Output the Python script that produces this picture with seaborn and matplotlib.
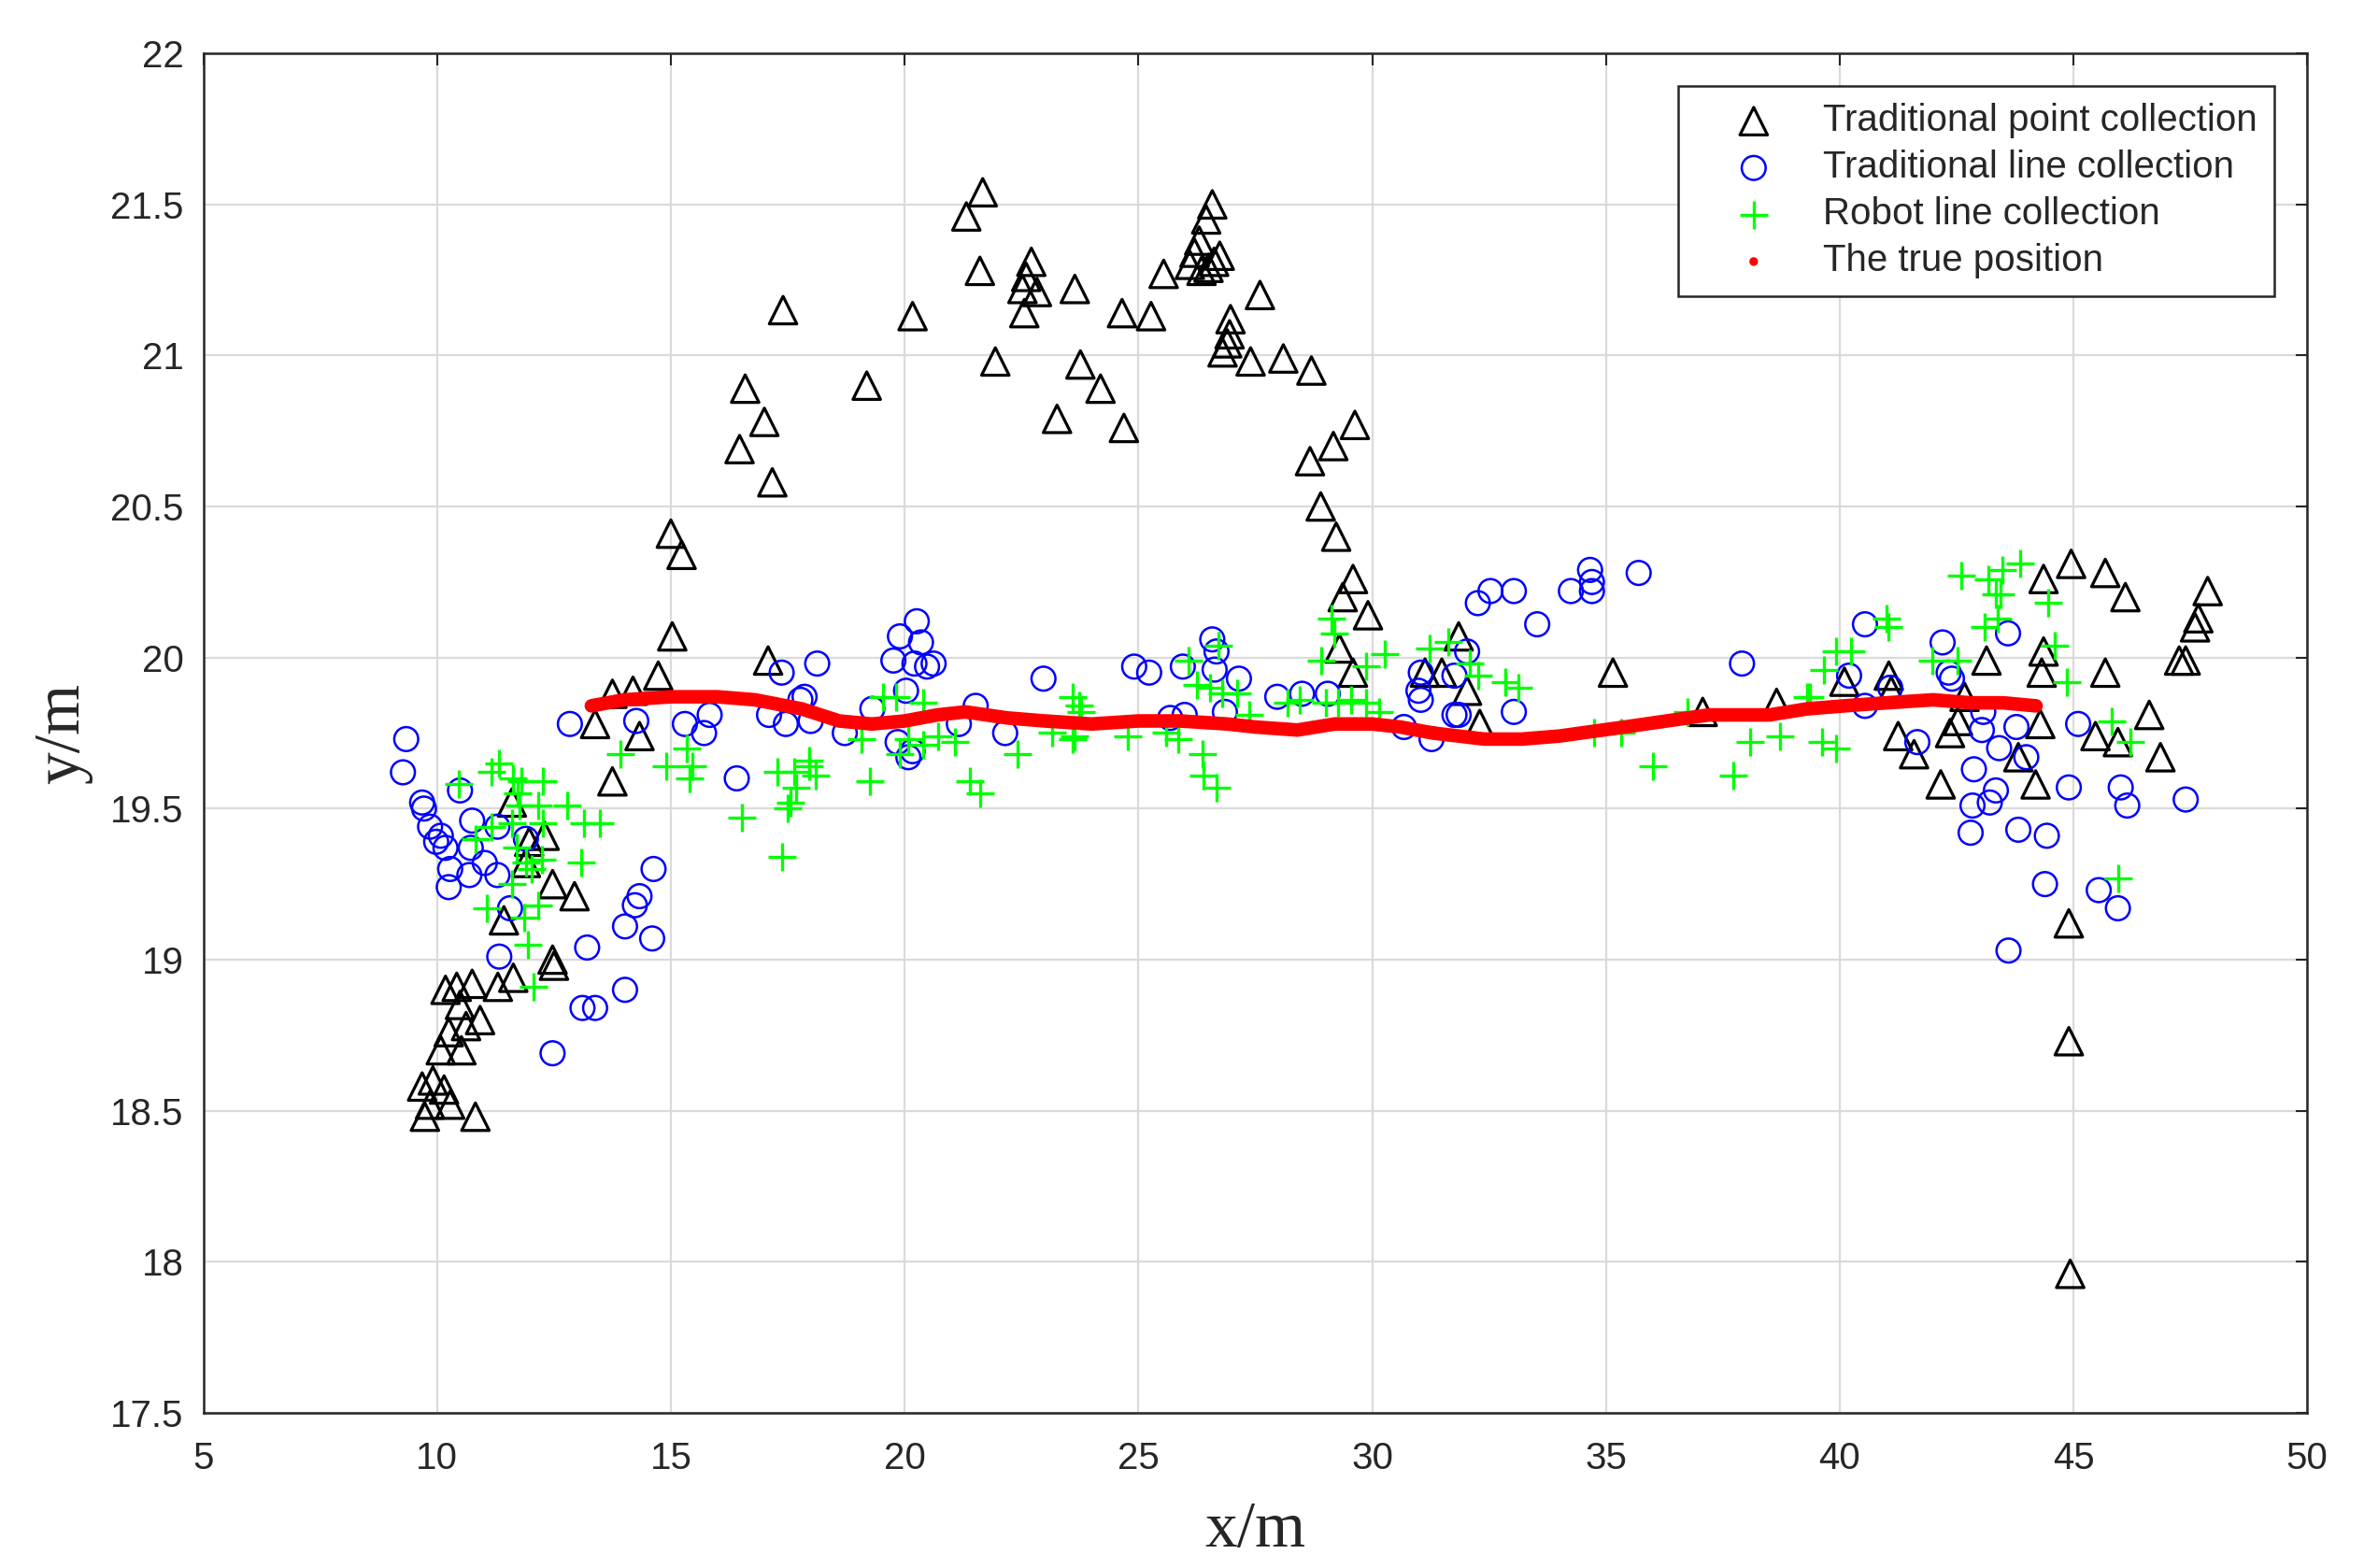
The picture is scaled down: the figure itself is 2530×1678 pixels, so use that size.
import matplotlib
matplotlib.use("Agg")
import matplotlib.pyplot as plt
import seaborn as sns

# Traditional point collection (black triangles)
point_x = [9.68, 9.74, 9.85, 9.91, 10.08, 10.15, 10.28, 10.25, 10.52, 10.62, 10.92, 10.49, 10.18, 10.42,
           10.75, 10.82, 11.3, 11.63, 12.47, 12.5, 11.43, 12.47, 12.94, 11.9, 11.97, 12.3, 11.6,
           13.38, 13.75, 13.75, 14.19, 14.33, 14.73, 15.03, 15.0, 15.23, 17.08,
           16.47, 16.59, 17.0, 17.17, 17.4, 19.19, 20.17, 21.32, 21.67, 21.61, 21.94, 22.52, 22.56, 22.6,
           22.71, 22.83, 23.26, 23.64, 23.76, 24.19, 24.65, 24.69, 25.27, 25.54,
           26.58, 26.45, 26.3, 26.2, 26.1, 26.35, 26.5, 26.62, 26.74, 27.6, 26.97, 26.95, 26.9, 26.8,
           27.4, 28.1, 28.7, 29.63, 29.17, 28.67, 28.9, 29.23, 29.59, 29.37, 29.91, 29.3, 29.59,
           31.13, 31.49, 31.85, 32.03, 32.3, 35.15, 37.07, 38.65,
           40.1, 41.05, 41.1, 41.25, 41.59, 42.16, 42.36, 42.53, 42.67, 43.14, 43.82, 44.19, 44.29, 44.32,
           44.36, 44.36, 44.95, 45.68, 46.11, 45.68, 45.47, 45.95, 46.62, 46.86, 47.26, 47.4, 47.6, 47.67,
           47.87, 44.9, 44.9, 44.93]
point_y = [18.58, 18.48, 18.52, 18.6, 18.7, 18.57, 18.52, 18.76, 18.7, 18.78, 18.8, 18.85, 18.9, 18.91,
           18.92, 18.48, 18.91, 18.94, 19.0, 18.98, 19.13, 19.25, 19.21, 19.32, 19.39, 19.41, 19.52,
           19.78, 19.59, 19.88, 19.89, 19.74, 19.94, 20.07, 20.41, 20.34, 19.99,
           20.69, 20.89, 20.78, 20.58, 21.15, 20.9, 21.13, 21.46, 21.54, 21.28, 20.98, 21.22, 21.14, 21.26,
           21.31, 21.21, 20.79, 21.22, 20.97, 20.89, 21.14, 20.76, 21.13, 21.27,
           21.5, 21.45, 21.38, 21.34, 21.3, 21.28, 21.29, 21.31, 21.33, 21.2, 21.12, 21.07, 21.04, 21.01,
           20.98, 20.99, 20.95, 20.77, 20.7, 20.65, 20.5, 20.4, 20.26, 20.2, 20.14, 20.03, 19.95,
           19.95, 19.95, 20.07, 19.89, 19.78, 19.95, 19.82, 19.85,
           19.92, 19.94, 19.89, 19.74, 19.68, 19.58, 19.75, 19.79, 19.87, 19.99, 19.67, 19.58, 19.78, 19.95,
           20.02, 20.26, 20.31, 20.28, 20.2, 19.95, 19.74, 19.72, 19.81, 19.67, 19.99, 19.99, 20.1, 20.13,
           20.22, 19.12, 18.73, 17.96]

# Traditional line collection (blue circles)
line_x = [9.34, 9.27, 9.68, 9.72, 10.49, 10.75, 9.85, 10.08, 9.98, 10.18, 11.29, 11.9, 10.72, 11.02,
          10.28, 10.69, 11.29, 10.25, 11.56, 11.33, 12.84, 14.26, 15.3, 15.83, 15.71, 16.41, 14.63, 14.33,
          14.23, 14.02, 14.6, 13.21, 13.11, 13.38, 14.02, 12.47,
          17.37, 18.13, 17.1, 17.46, 17.77, 17.86, 17.99, 18.72, 20.26, 19.9, 20.35, 19.76, 20.21, 20.62,
          20.48, 20.03, 19.31, 19.85, 20.17, 20.08, 21.52, 21.16, 22.15, 22.97, 24.91, 25.23, 25.95, 26.58,
          26.67, 26.63, 25.68, 25.99, 26.85, 27.15, 27.97, 28.5, 29.05, 31.04, 30.99, 31.04, 32.03, 31.76,
          31.76, 31.85, 33.03, 30.68, 31.27, 32.26, 32.53, 33.03, 33.53, 34.25, 34.66, 34.7, 34.7, 35.7,
          37.91,
          40.54, 42.2, 43.6, 40.2, 41.08, 40.54, 42.33, 42.4, 45.1, 41.66, 43.07, 43.04, 43.78, 43.41,
          43.99, 42.87, 43.34, 43.21, 42.84, 44.9, 46.01, 46.15, 47.4, 42.8, 43.82, 44.43, 44.39, 45.54,
          45.95, 43.61]
line_y = [19.73, 19.62, 19.52, 19.5, 19.56, 19.46, 19.44, 19.41, 19.39, 19.37, 19.44, 19.4, 19.37, 19.32,
          19.3, 19.28, 19.28, 19.24, 19.17, 19.01, 19.78, 19.79, 19.78, 19.81, 19.75, 19.6, 19.3, 19.21,
          19.18, 19.11, 19.07, 19.04, 18.84, 18.84, 18.9, 18.69,
          19.95, 19.98, 19.81, 19.78, 19.86, 19.87, 19.79, 19.75, 20.12, 20.07, 20.05, 19.99, 19.98, 19.98,
          19.97, 19.89, 19.83, 19.72, 19.69, 19.67, 19.84, 19.78, 19.75, 19.93, 19.97, 19.95, 19.97, 20.06,
          20.02, 19.96, 19.8, 19.81, 19.82, 19.93, 19.87, 19.88, 19.88, 19.95, 19.89, 19.86, 20.02, 19.94,
          19.81, 19.81, 19.82, 19.77, 19.73, 20.18, 20.22, 20.22, 20.11, 20.22, 20.29, 20.25, 20.22, 20.28,
          19.98,
          20.11, 20.05, 20.08, 19.94, 19.9, 19.84, 19.95, 19.93, 19.78, 19.72, 19.82, 19.76, 19.77, 19.7,
          19.67, 19.63, 19.56, 19.52, 19.51, 19.57, 19.57, 19.51, 19.53, 19.42, 19.43, 19.41, 19.25, 19.23,
          19.17, 19.03]

# Robot line collection (green crosses)
robot_x = [11.33, 11.16, 11.63, 11.8, 12.27, 10.47, 11.73, 12.17, 12.78, 11.77, 13.14, 13.48, 12.27, 11.16,
           11.6, 10.82, 11.7, 12.24, 11.9, 12.03, 13.08, 11.6, 11.06, 12.17, 11.87, 11.94, 12.07, 13.92,
           15.34, 14.9, 15.4, 16.52,
           15.47, 17.28, 17.64, 17.95, 17.95, 18.09, 17.68, 17.55, 17.5, 17.37, 19.26, 19.08, 19.53, 19.81,
           20.39, 20.08, 19.9, 20.39, 20.71, 21.07, 21.39, 21.61, 22.41, 23.6, 23.73, 23.78, 23.15, 23.6,
           23.64, 24.77, 25.59, 25.86, 26.08, 26.26, 26.54, 26.72, 26.38, 26.4, 26.67,
           29.14, 29.19, 28.92, 30.27, 29.86, 31.22, 31.63, 32.08, 32.26, 32.85, 33.12, 26.79, 27.11, 27.38,
           28.19, 28.46, 29.01, 29.28, 29.55, 29.86, 30.14, 34.75, 35.33, 36.74, 36.01, 37.73, 38.09, 38.73,
           39.36,
           42.6, 43.18, 43.48, 43.85, 43.34, 43.44, 44.46, 43.1, 43.38, 41.01, 41.05, 39.93, 40.24, 39.66,
           44.6, 41.99, 42.53, 44.86, 39.3, 45.81, 46.22, 39.63, 39.93, 45.95]
robot_y = [19.65, 19.62, 19.6, 19.59, 19.59, 19.58, 19.55, 19.51, 19.51, 19.51, 19.45, 19.45, 19.45, 19.44,
           19.45, 19.4, 19.37, 19.33, 19.32, 19.3, 19.32, 19.25, 19.17, 19.18, 19.14, 19.05, 18.91, 19.68,
           19.7, 19.64, 19.6, 19.47,
           19.64, 19.62, 19.62, 19.66, 19.64, 19.61, 19.57, 19.52, 19.5, 19.34, 19.59, 19.73, 19.87, 19.87,
           19.85, 19.73, 19.68, 19.71, 19.74, 19.72, 19.59, 19.55, 19.68, 19.87, 19.84, 19.82, 19.75, 19.73,
           19.74, 19.74, 19.75, 19.73, 19.99, 19.91, 19.9, 20.04, 19.68, 19.61, 19.57,
           20.13, 20.08, 19.99, 20.01, 19.97, 20.03, 20.05, 19.98, 19.94, 19.92, 19.9, 19.88, 19.88, 19.81,
           19.85, 19.86, 19.85, 19.85, 19.86, 19.85, 19.82, 19.75, 19.75, 19.82, 19.64, 19.61, 19.72, 19.74,
           19.87,
           20.27, 20.26, 20.29, 20.31, 20.21, 20.21, 20.18, 20.1, 20.13, 20.13, 20.1, 20.02, 20.02, 19.96,
           20.04, 19.99, 19.99, 19.92, 19.87, 19.79, 19.72, 19.72, 19.7, 19.27]

# The true position (red path)
true_x = [13.3, 14.0, 15.0, 16.0, 16.8, 17.8, 18.6, 19.3, 20.0, 20.7, 21.3, 22.2, 23.0, 24.0, 25.0, 25.9,
          26.9, 27.5, 28.4, 29.2, 30.0, 30.6, 31.3, 32.4, 33.2, 34.0, 34.7, 35.4, 36.3, 37.2, 38.5, 39.3,
          40.1, 41.0, 42.0, 42.8, 43.5, 44.2]
true_y = [19.84, 19.86, 19.87, 19.87, 19.86, 19.83, 19.79, 19.78, 19.79, 19.81, 19.82, 19.80, 19.79, 19.78,
          19.79, 19.79, 19.78, 19.77, 19.76, 19.78, 19.78, 19.77, 19.75, 19.73, 19.73, 19.74, 19.755, 19.77,
          19.79, 19.81, 19.81, 19.83, 19.84, 19.85, 19.86, 19.85, 19.85, 19.84]

sns.set_style("white")
plt.rcParams['font.family'] = ['Liberation Sans', 'DejaVu Sans']

fig = plt.figure(figsize=(25.3, 16.78), dpi=100)
ax = fig.add_axes([0.086, 0.099, 0.890, 0.867])

sns.scatterplot(x=point_x, y=point_y, marker='^', s=450, facecolors='none', edgecolor='black',
                linewidth=2.3, label='Traditional point collection', ax=ax, zorder=3)
sns.scatterplot(x=line_x, y=line_y, marker='o', s=340, facecolors='none', edgecolor='#0000ff',
                linewidth=1.8, label='Traditional line collection', ax=ax, zorder=4)
sns.scatterplot(x=robot_x, y=robot_y, marker='+', s=480, color='#00ff00',
                linewidth=2.4, label='Robot line collection', ax=ax, zorder=5)
sns.lineplot(x=true_x, y=true_y, color='#ff0000', linewidth=10.5, ax=ax, zorder=6, legend=False)
sns.scatterplot(x=true_x, y=true_y, marker='o', s=45, color='#ff0000', edgecolor='none',
                label='The true position', ax=ax, zorder=7)

ax.set_xlim(5, 50)
ax.set_ylim(17.5, 22)
ax.set_xticks(range(5, 51, 5))
ax.set_yticks([17.5, 18, 18.5, 19, 19.5, 20, 20.5, 21, 21.5, 22])
ax.set_yticklabels(['17.5', '18', '18.5', '19', '19.5', '20', '20.5', '21', '21.5', '22'])
ax.grid(True, color='#dadada', linewidth=1.6)
ax.set_axisbelow(True)
ax.tick_params(direction='in', length=9, width=1.5, labelsize=29, colors='#262626',
               top=True, right=True)
ax.tick_params(axis='x', pad=22)
ax.tick_params(axis='y', pad=15)
for sp in ax.spines.values():
    sp.set_color('#262626')
    sp.set_linewidth(1.8)

ax.set_xlabel('x/m', fontsize=50, family='Liberation Serif', labelpad=19)
ax.set_ylabel('y/m', fontsize=50, family='Liberation Serif', labelpad=14)

leg = ax.legend(loc='upper right', fontsize=29, frameon=True, fancybox=False, edgecolor='#262626',
                framealpha=1, borderpad=0.45, handlelength=3.1, handletextpad=0.3,
                labelspacing=0.3, borderaxespad=0.87)
leg.get_frame().set_linewidth(1.8)

fig.savefig('out.png', dpi=100)
